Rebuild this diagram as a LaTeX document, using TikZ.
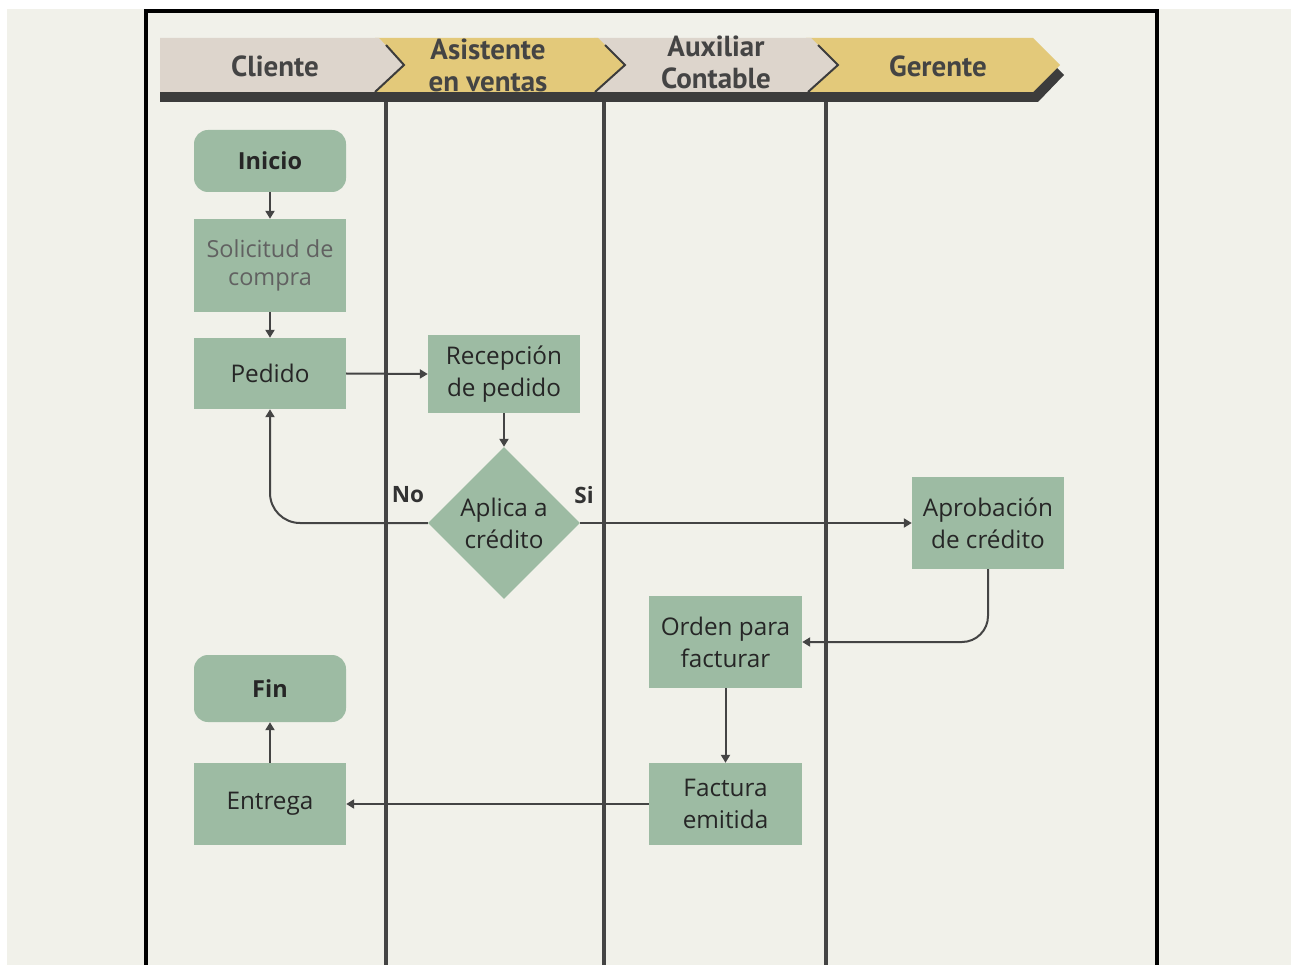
\documentclass[tikz,border=0pt]{standalone}
\usepackage{fontspec}
\setmainfont{Open Sans}
\newfontfamily\headfont{PT Sans}
\usetikzlibrary{arrows.meta,shapes.geometric}
\definecolor{bgc}{HTML}{F1F1EA}
\definecolor{nodec}{HTML}{9DBBA3}
\definecolor{linec}{HTML}{444444}
\definecolor{beige}{HTML}{DDD5CC}
\definecolor{gold}{HTML}{E3C97A}
\definecolor{headtxt}{HTML}{444444}
\definecolor{shadowc}{HTML}{3C3C3C}
\tikzset{
  box/.style={rectangle, fill=nodec, draw=none, minimum width=152pt, inner sep=2pt, align=center, font=\fontsize{24.3}{32}\selectfont, text=black!85},
  term/.style={box, rounded corners=14pt, font=\fontsize{23.5}{30}\selectfont\bfseries},
  conn/.style={draw=linec, line width=2pt, -{Triangle[length=8pt,width=9pt]}},
  lane/.style={draw=linec, line width=3.5pt},
  frame/.style={draw=black, line width=3.5pt},
  htxt/.style={font=\headfont\fontsize{29}{32}\selectfont\bfseries, text=headtxt, align=center},
  lbl/.style={font=\fontsize{22.5}{24}\selectfont\bfseries, text=black!80}
}
\begin{document}
\begin{tikzpicture}[x=1pt,y=-1pt]
\useasboundingbox (0,0) rectangle (1299,965);
\fill[white] (0,0) rectangle (1299,965);
\fill[bgc] (7,9) rectangle (1291,965);
% frame
\draw[frame] (146,965) -- (146,11) -- (1157,11) -- (1157,965);
% lanes
\draw[lane] (386,100) -- (386,965);
\draw[lane] (604,100) -- (604,965);
\draw[lane] (826,100) -- (826,965);
% header shadow
\fill[shadowc] (160,48) -- (1037,48) -- (1064,75) -- (1038,102) -- (160,102) -- cycle;
% chevrons
\fill[gold] (806,38) -- (1033,38) -- (1060,65) -- (1033,92) -- (806,92) -- cycle;
\fill[beige] (594,38) -- (811,38) -- (838,65) -- (808,92) -- (594,92) -- cycle;
\fill[gold] (375,38) -- (598,38) -- (625,65) -- (595,92) -- (375,92) -- cycle;
\fill[beige] (160,38) -- (379,38) -- (404,65) -- (375,92) -- (160,92) -- cycle;
\draw[shadowc, line width=2pt] (386,45) -- (404,65) -- (375,92);
\draw[shadowc, line width=2pt] (605,45) -- (625,65) -- (595,92);
\draw[shadowc, line width=2pt] (818,45) -- (838,65) -- (808,92);
\node[htxt] (hcli) at (275,66) {Cliente};
\node[htxt] (hasi) at (488,65) {Asistente\\en ventas};
\node[htxt] (haux) at (716,62) {Auxiliar\\Contable};
\node[htxt] (hger) at (938,66) {Gerente};
% nodes
\node[term, minimum height=62pt] (inicio) at (270,161) {Inicio};
\node[box, minimum height=93pt, text=black!62, font=\fontsize{23.5}{28}\selectfont] (sol) at (270,265.5) {Solicitud de\\compra};
\node[box, minimum height=71pt] (ped) at (270,373.5) {Pedido};
\node[box, minimum height=78pt] (rec) at (504,374) {Recepción\\de pedido};
\node[diamond, fill=nodec, minimum width=152pt, minimum height=152pt, inner sep=0pt, aspect=1] (dec) at (504,523) {};
\node[font=\fontsize{24.3}{32}\selectfont, text=black!85, align=center] (dect) at (dec.center) {Aplica a\\crédito};
\node[box, minimum height=92pt] (aprob) at (988,523) {Aprobación\\de crédito};
\node[box, minimum width=153pt, minimum height=92pt] (orden) at (725.5,642) {Orden para\\facturar};
\node[term, minimum height=67pt] (fin) at (270,688.5) {Fin};
\node[box, minimum height=82pt] (entrega) at (270,804) {Entrega};
\node[box, minimum width=153pt, minimum height=82pt] (factura) at (725.5,804) {Factura\\emitida};
% labels
\node[lbl] (no) at (408,495) {No};
\node[lbl] (si) at (584,495) {Si};
% connectors
\draw[conn] (inicio.south) -- (sol.north);
\draw[conn] (sol.south) -- (ped.north);
\draw[conn] (ped.east) -- (rec.west);
\draw[conn] (rec.south) -- (dec.north);
\draw[conn, rounded corners=30pt] (dec.west) -| (ped.south);
\draw[conn] (dec.east) -- (aprob.west);
\draw[conn, rounded corners=26pt] (aprob.south) |- (orden.east);
\draw[conn] (orden.south) -- (factura.north);
\draw[conn] (factura.west) -- (entrega.east);
\draw[conn] (entrega.north) -- (fin.south);
\end{tikzpicture}
\end{document}
